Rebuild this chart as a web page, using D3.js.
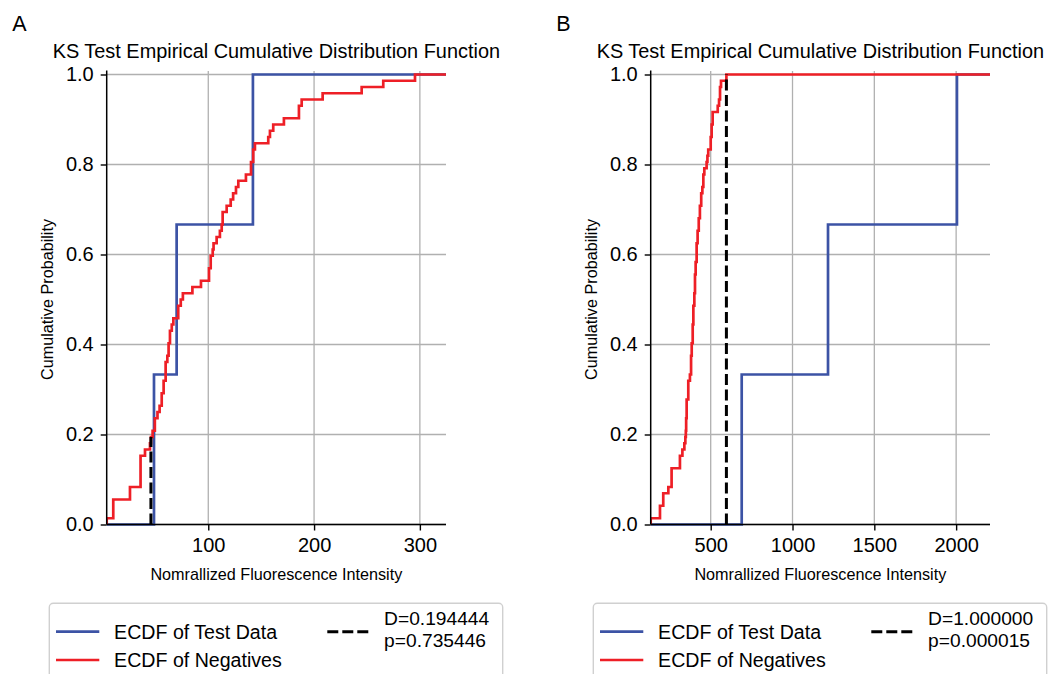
<!DOCTYPE html>
<html>
<head>
<meta charset="utf-8">
<script src="https://cdn.jsdelivr.net/npm/d3@7"></script>
<style>
  html, body { margin: 0; padding: 0; background: #fff; }
  svg { display: block; font-family: "Liberation Sans", Arial, sans-serif; }
</style>
</head>
<body>
<svg id="chart" width="1050" height="674"></svg>
<script>
// ---------------- DATA ----------------
const panelLabels = ["A", "B"];
const chartTitle = "KS Test Empirical Cumulative Distribution Function";
const xAxisTitle = "Nomrallized Fluorescence Intensity";
const yAxisTitle = "Cumulative Probability";
const seriesNames = ["ECDF of Test Data", "ECDF of Negatives"];

// Panel A: test data (3 samples) and negatives ECDF steps (value, cumulative count of 72)
const testA = [48.7, 70.1, 142.2];
const negStepXA = [4, 10.2, 26, 36, 40.2, 44.9, 45.8, 47.4, 49.5, 52, 54, 56, 57.8, 59.7, 61.3, 62.5, 63.8, 65.5, 67,
  71.6, 74, 76, 85, 93.1, 100.7, 102.3, 104.2, 105, 107.9, 111, 112.7, 113.6, 117.4, 121.2, 123.5, 126.2,
  128.4, 135.6, 140.4, 142.5, 144.1, 156.7, 158.3, 161.4, 171.5, 185.7, 188.3, 208.1, 245, 265.4, 295.4];
const negStepCountA = [1, 4, 6, 11, 12, 13, 14, 15, 17, 18, 19, 21, 23, 26, 27, 29, 31, 32, 33,
  35, 36, 37, 38, 39, 41, 43, 44, 45, 46, 47, 48, 50, 51, 52, 53, 54,
  55, 56, 58, 60, 61, 62, 63, 64, 65, 67, 68, 69, 70, 71, 72];
const nNegA = 72;
const xDomainA = [4.0, 324.7];
const xTicksA = [100, 200, 300];
const ksDA = 0.194444, ksPA = 0.735446, ksXA = 45.8;

// Panel B
const testB = [689.5, 1217, 2005];
const negStepXB = [133.3, 190, 210, 241, 261, 312, 327, 339, 345, 348, 350, 353, 363, 373, 380, 384, 390, 394, 400,
  404, 408, 414, 420, 427, 434, 442, 449, 455, 461, 475, 480, 485, 500, 506, 512, 543, 551, 557, 563, 596];
const negStepCountB = [1, 3, 5, 6, 9, 11, 12, 13, 14, 15, 17, 20, 23, 24, 27, 29, 32, 35, 37,
  40, 42, 45, 47, 49, 51, 53, 54, 56, 57, 58, 59, 60, 62, 64, 66, 67, 68, 70, 71, 72];
const nNegB = 72;
const xDomainB = [133.3, 2207];
const xTicksB = [500, 1000, 1500, 2000];
const ksDB = 1.000000, ksPB = 0.000015, ksXB = 596;

const yTicks = [0, 0.2, 0.4, 0.6, 0.8, 1.0];

// ---------------- STYLE ----------------
const blue = "#3c53a5", red = "#ee1f26";
const FONT = '"Liberation Sans", Arial, sans-serif';

const svg = d3.select("#chart");

function drawPanel(opts) {
  const { left, label, test, negX, negC, nNeg, xDomain, xTicks, ksD, ksP, ksX, id } = opts;
  const top = 74.5, bottom = 524.5, width = 339.3;
  const x = d3.scaleLinear().domain(xDomain).range([left, left + width]);
  const y = d3.scaleLinear().domain([0, 1]).range([bottom, top]);
  const g = svg.append("g");

  svg.append("clipPath").attr("id", "clip" + id).append("rect")
    .attr("x", left).attr("y", top - 4).attr("width", width).attr("height", bottom - top + 8);

  // grid
  g.append("g").selectAll("line").data(xTicks).join("line")
    .attr("x1", d => x(d)).attr("x2", d => x(d)).attr("y1", top - 3.5).attr("y2", bottom)
    .attr("stroke", "#b0b0b0").attr("stroke-width", 1.3);
  g.append("g").selectAll("line").data(yTicks).join("line")
    .attr("x1", left).attr("x2", left + width).attr("y1", d => y(d)).attr("y2", d => y(d))
    .attr("stroke", "#b0b0b0").attr("stroke-width", 1.3);

  const line = d3.line().x(d => x(d[0])).y(d => y(d[1])).curve(d3.curveStepAfter);

  const blueData = [[xDomain[0], 0]].concat(test.map((v, i) => [v, (i + 1) / test.length]), [[xDomain[1], 1]]);
  g.append("path").datum(blueData).attr("d", line)
    .attr("fill", "none").attr("stroke", blue).attr("stroke-width", 2.7)
    .attr("clip-path", `url(#clip${id})`);

  const redData = [[xDomain[0], 0]].concat(negX.map((v, i) => [v, negC[i] / nNeg]), [[xDomain[1], 1]]);
  g.append("path").datum(redData).attr("d", line)
    .attr("fill", "none").attr("stroke", red).attr("stroke-width", 2.7)
    .attr("clip-path", `url(#clip${id})`);

  g.append("line").attr("x1", x(ksX)).attr("x2", x(ksX)).attr("y1", y(0)).attr("y2", y(ksD))
    .attr("stroke", "#000").attr("stroke-width", 3).attr("stroke-dasharray", "11,4.5");

  const xAxis = d3.axisBottom(x).tickValues(xTicks).tickSize(6).tickPadding(6).tickFormat(d3.format("d"));
  const yAxis = d3.axisLeft(y).tickValues(yTicks).tickSize(6).tickPadding(7).tickFormat(d3.format(".1f"));
  const gx = g.append("g").attr("transform", `translate(0,${bottom})`).call(xAxis);
  const gy = g.append("g").attr("transform", `translate(${left},0)`).call(yAxis);
  gx.select(".domain").attr("d", `M${left},0H${left + width}`).attr("stroke-width", 1.5);
  gy.select(".domain").attr("d", `M0,${bottom}V${top - 4}`).attr("stroke-width", 1.5);
  [gx, gy].forEach(a => {
    a.selectAll(".tick line").attr("stroke-width", 1.4);
    a.selectAll("text").attr("font-family", FONT).attr("font-size", 20).attr("fill", "#000");
  });
  gx.selectAll(".tick text").attr("dy", "0.76em");

  svg.append("text").attr("x", left + width / 2).attr("y", 58).attr("text-anchor", "middle")
    .attr("font-size", 19.9).text(chartTitle);
  svg.append("text").attr("x", left - 94.5).attr("y", 31).attr("font-size", 21.5).text(label);
  svg.append("text").attr("x", left + width / 2).attr("y", 580).attr("text-anchor", "middle")
    .attr("font-size", 16.2).text(xAxisTitle);
  svg.append("text").attr("transform", `translate(${left - 53.5},${(top + bottom) / 2}) rotate(-90)`)
    .attr("text-anchor", "middle").attr("font-size", 16.2).text(yAxisTitle);

  // legend
  const lx = left - 57.4, ly = 603.3;
  const lg = svg.append("g");
  lg.append("rect").attr("x", lx).attr("y", ly).attr("width", 453.4).attr("height", 90).attr("rx", 4)
    .attr("fill", "#fff").attr("stroke", "#d0d0d0").attr("stroke-width", 1.4);
  lg.append("line").attr("x1", lx + 6.7).attr("x2", lx + 50).attr("y1", 631.7).attr("y2", 631.7)
    .attr("stroke", blue).attr("stroke-width", 2.7);
  lg.append("line").attr("x1", lx + 6.7).attr("x2", lx + 50).attr("y1", 660).attr("y2", 660)
    .attr("stroke", red).attr("stroke-width", 2.7);
  lg.append("text").attr("x", lx + 64.8).attr("y", 638.5).attr("font-size", 19.6).text(seriesNames[0]);
  lg.append("text").attr("x", lx + 64.8).attr("y", 667).attr("font-size", 19.6).text(seriesNames[1]);
  lg.append("line").attr("x1", lx + 278).attr("x2", lx + 319).attr("y1", 631.7).attr("y2", 631.7)
    .attr("stroke", "#000").attr("stroke-width", 3).attr("stroke-dasharray", "11,4");
  lg.append("text").attr("x", lx + 334.8).attr("y", 625).attr("font-size", 19.2).text("D=" + ksD.toFixed(6));
  lg.append("text").attr("x", lx + 334.8).attr("y", 646.5).attr("font-size", 19.2).text("p=" + ksP.toFixed(6));
}

svg.attr("font-family", FONT);

drawPanel({ id: "A", left: 106.7, label: panelLabels[0], test: testA, negX: negStepXA, negC: negStepCountA, nNeg: nNegA,
  xDomain: xDomainA, xTicks: xTicksA, ksD: ksDA, ksP: ksPA, ksX: ksXA });
drawPanel({ id: "B", left: 650.7, label: panelLabels[1], test: testB, negX: negStepXB, negC: negStepCountB, nNeg: nNegB,
  xDomain: xDomainB, xTicks: xTicksB, ksD: ksDB, ksP: ksPB, ksX: ksXB });
</script>
</body>
</html>
